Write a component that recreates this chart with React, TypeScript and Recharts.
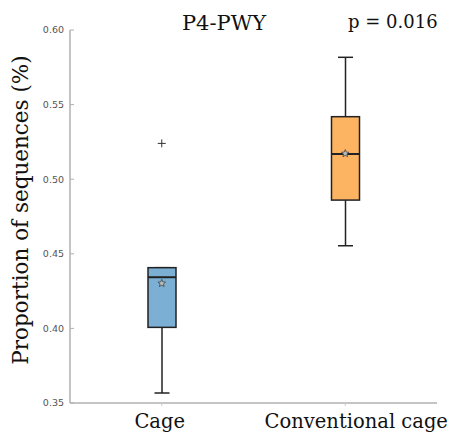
import { ComposedChart, Bar, Line, XAxis, YAxis } from 'recharts'

const groups = ['Cage', 'Conventional cage']
const mins = [0.3567, 0.4554]
const q1s = [0.4007, 0.486]
const medians = [0.4343, 0.5169]
const q3s = [0.4407, 0.5419]
const maxs = [0.4407, 0.5817]
const means = [0.4302, 0.5172]
const outliers: (number | null)[] = [0.524, null]
const yTicks = [0.35, 0.4, 0.45, 0.5, 0.55, 0.6]
const fills = ['#7bafd4', '#fdb462']

const data = groups.map((g, i) => ({
  group: g,
  range: [mins[i], maxs[i]],
  q1: q1s[i],
  median: medians[i],
  q3: q3s[i],
  mean: means[i],
  outlier: outliers[i],
  fill: fills[i],
}))

const serif = '"DejaVu Serif", serif'
const labelShift = [-2, 11] // the source nudges its long label to the right

// box + whiskers, drawn inside the min..max range bar that recharts positions for us
function BoxShape(props: any) {
  const { x, y, width, height, payload } = props
  const [lo, hi] = payload.range
  const toY = (v: number) => y + ((hi - v) / (hi - lo)) * height
  const cx = x + width / 2
  const cap = 7.5
  const yMin = toY(lo), yMax = toY(hi)
  const yQ1 = toY(payload.q1), yQ3 = toY(payload.q3), yMed = toY(payload.median)
  return (
    <g stroke="#222" strokeWidth={1.5}>
      <line x1={cx} x2={cx} y1={yMin} y2={yQ1} />
      <line x1={cx} x2={cx} y1={yQ3} y2={yMax} />
      <line x1={cx - cap} x2={cx + cap} y1={yMin} y2={yMin} />
      <line x1={cx - cap} x2={cx + cap} y1={yMax} y2={yMax} />
      <rect x={x} y={yQ3} width={width} height={yQ1 - yQ3} fill={payload.fill} />
      <line x1={x} x2={x + width} y1={yMed} y2={yMed} strokeWidth={2} />
    </g>
  )
}

function StarDot(props: any) {
  const { cx, cy, index } = props
  if (cy == null || cx == null) return <g key={index} />
  const pts: string[] = []
  for (let k = 0; k < 10; k++) {
    const r = k % 2 === 0 ? 4 : 1.8
    const a = -Math.PI / 2 + (k * Math.PI) / 5
    pts.push(`${cx + r * Math.cos(a)},${cy + r * Math.sin(a)}`)
  }
  return <polygon key={index} points={pts.join(' ')} fill="#bbb" stroke="#444" strokeWidth={0.8} />
}

function PlusDot(props: any) {
  const { cx, cy, index, value } = props
  if (value == null || cy == null) return <g key={index} />
  return (
    <g key={index} stroke="#333" strokeWidth={1}>
      <line x1={cx - 4} x2={cx + 4} y1={cy} y2={cy} />
      <line x1={cx} x2={cx} y1={cy - 4} y2={cy + 4} />
    </g>
  )
}

function GroupTick(props: any) {
  const { x, y, payload, index } = props
  return (
    <text x={x + (labelShift[index] ?? 0)} y={y} dy="0.75em" textAnchor="middle" fill="#111" fontSize={19.5} fontFamily={serif}>
      {payload.value}
    </text>
  )
}

export default function App() {
  return (
    <div style={{ position: 'absolute', left: 0, top: 0, width: 458, height: 439, background: '#fff' }}>
      <ComposedChart width={458} height={439} data={data} margin={{ top: 30, right: 21, bottom: 0, left: 0 }}>
        <XAxis
          dataKey="group"
          height={36}
          axisLine={{ stroke: '#b0b0b0', strokeWidth: 1.5 }}
          tickLine={{ stroke: '#ccc' }}
          tickSize={3}
          tickMargin={7}
          tick={GroupTick}
        />
        <YAxis
          type="number"
          domain={[0.35, 0.6]}
          ticks={yTicks}
          width={70}
          axisLine={{ stroke: '#b0b0b0', strokeWidth: 1.5 }}
          tickLine={{ stroke: '#b0b0b0' }}
          tickSize={-4}
          tickMargin={10}
          tickFormatter={(v: number) => v.toFixed(2)}
          tick={{ fill: '#555', fontSize: 9.5, fontFamily: '"DejaVu Sans", sans-serif' }}
        />
        <Bar dataKey="range" barSize={28} shape={BoxShape} isAnimationActive={false} />
        <Line dataKey="mean" stroke="none" dot={StarDot} activeDot={false} isAnimationActive={false} />
        <Line dataKey="outlier" stroke="none" dot={PlusDot} activeDot={false} isAnimationActive={false} />
      </ComposedChart>
      <div style={{ position: 'absolute', left: 224, top: 11, transform: 'translateX(-50%)', fontFamily: serif, fontSize: 21, color: '#111', whiteSpace: 'nowrap' }}>
        P4-PWY
      </div>
      <div style={{ position: 'absolute', left: 348, top: 11, fontFamily: serif, fontSize: 18, color: '#111', whiteSpace: 'nowrap' }}>
        p = 0.016
      </div>
      <div style={{ position: 'absolute', left: 20, top: 210, transform: 'translate(-50%, -50%) rotate(-90deg)', fontFamily: serif, fontSize: 21.5, color: '#111', whiteSpace: 'nowrap' }}>
        Proportion of sequences (%)
      </div>
    </div>
  )
}
